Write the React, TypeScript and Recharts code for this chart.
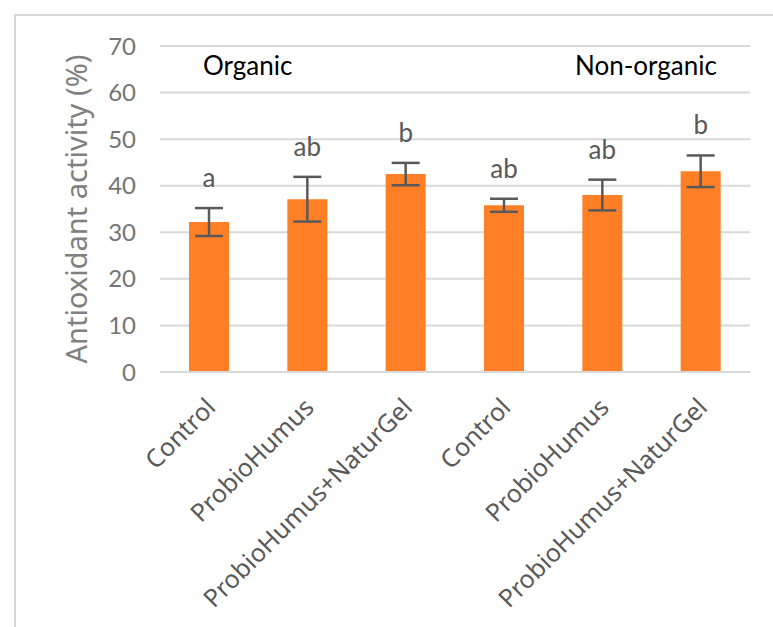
import React from "react";
import { BarChart, Bar, XAxis, YAxis, CartesianGrid, ErrorBar, LabelList, Customized } from "recharts";

const categories = ["Control", "ProbioHumus", "ProbioHumus+NaturGel", "Control", "ProbioHumus", "ProbioHumus+NaturGel"];
const activity = [32.2, 37.1, 42.5, 35.8, 38.0, 43.1];
const errors = [3.0, 4.8, 2.4, 1.4, 3.3, 3.4];
const letters = ["a", "ab", "b", "ab", "ab", "b"];
const yTicks = [0, 10, 20, 30, 40, 50, 60, 70];

const data = categories.map((name, i) => ({ idx: i, name, value: activity[i], err: errors[i] }));

const FONT = "Lato, 'Open Sans', sans-serif";
const WIDE = "'Noto Sans', 'Open Sans', sans-serif";
const GREY = "#595959";

const XTick = ({ x, y, payload }: any) => {
  const tx = x + 8;
  const ty = y + 29;
  return (
    <text x={tx} y={ty} transform={`rotate(-45, ${tx}, ${ty})`} textAnchor="end" fill={GREY} fontSize={25} fontFamily={WIDE}>
      {categories[payload.value]}
    </text>
  );
};

const Letter = ({ x, y, width, height, value, index }: any) => {
  const perUnit = height / value;
  const top = y - errors[index] * perUnit;
  return (
    <text x={x + width / 2} y={top - 21} textAnchor="middle" fill={GREY} fontSize={26} fontFamily={FONT}>
      {letters[index]}
    </text>
  );
};

const GroupTitles = () => (
  <g fontFamily={FONT} fontSize={26} fill="#000">
    <text x={203} y={75}>Organic</text>
    <text x={575} y={75}>Non-organic</text>
  </g>
);

export default function App() {
  return (
    <div style={{ position: "absolute", left: 0, top: 0, width: 773, height: 627, background: "#fff" }}>
      <div
        style={{
          position: "absolute",
          left: 14,
          top: 14,
          width: 773,
          height: 627,
          borderLeft: "2px solid #d9d9d9",
          borderTop: "2px solid #d9d9d9",
        }}
      />
      <BarChart
        width={773}
        height={627}
        data={data}
        margin={{ top: 46, right: 23, bottom: 25, left: 0 }}
        barSize={40}
        style={{ position: "absolute", left: 0, top: 0 }}
      >
        <CartesianGrid vertical={false} stroke="#d9d9d9" strokeWidth={2} />
        <XAxis
          dataKey="idx"
          type="category"
          height={230}
          tick={<XTick />}
          tickLine={false}
          axisLine={{ stroke: "#d9d9d9", strokeWidth: 2 }}
          interval={0}
        />
        <YAxis
          width={160}
          domain={[0, 70]}
          ticks={yTicks}
          tickLine={false}
          axisLine={false}
          tickMargin={18}
          tick={{ fill: "#757575", fontSize: 24, fontFamily: FONT }}
          label={{
            value: "Antioxidant activity (%)",
            angle: -90,
            position: "center",
            dx: -3,
            dy: 0,
            fill: "#808080",
            fontSize: 29,
            fontFamily: WIDE,
          }}
        />
        <Bar dataKey="value" fill="#FE7F26" isAnimationActive={false}>
          <ErrorBar dataKey="err" width={14} stroke={GREY} strokeWidth={2.5} />
          <LabelList dataKey="value" content={<Letter />} />
        </Bar>
        <Customized component={GroupTitles} />
      </BarChart>
    </div>
  );
}
